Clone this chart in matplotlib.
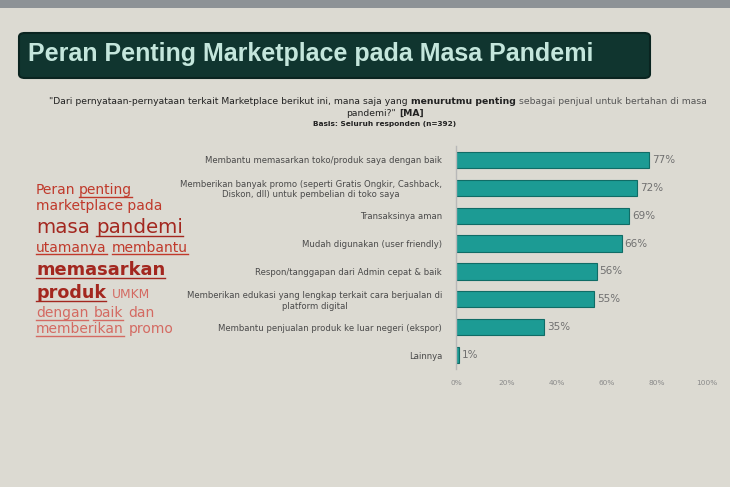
import matplotlib
matplotlib.use("Agg")
import matplotlib.pyplot as plt
from matplotlib.patches import FancyBboxPatch, Rectangle

# data
categories = [
    "Membantu memasarkan toko/produk saya dengan baik",
    "Memberikan banyak promo (seperti Gratis Ongkir, Cashback,\nDiskon, dll) untuk pembelian di toko saya",
    "Transaksinya aman",
    "Mudah digunakan (user friendly)",
    "Respon/tanggapan dari Admin cepat & baik",
    "Memberikan edukasi yang lengkap terkait cara berjualan di\nplatform digital",
    "Membantu penjualan produk ke luar negeri (ekspor)",
    "Lainnya",
]
values = [77, 72, 69, 66, 56, 55, 35, 1]
xticks = [0, 20, 40, 60, 80, 100]

W, H = 730, 487
fig = plt.figure(figsize=(W / 100, H / 100), dpi=100)
fig.patch.set_facecolor("#dcdad2")

def fx(px):
    return px / W

def fy(py):
    return 1 - py / H

# dark band at the very top of the screen
fig.add_artist(Rectangle((0, fy(8)), 1, 8 / H, transform=fig.transFigure,
                         facecolor="#8d9296", edgecolor="none"))

# title box
fig.add_artist(FancyBboxPatch((fx(19), fy(78)), fx(631), 45 / H,
                              boxstyle="round,pad=0,rounding_size=0.008",
                              transform=fig.transFigure,
                              facecolor="#10352f", edgecolor="#0a2420", lw=1.5))
fig.text(fx(28), fy(54), "Peran Penting Marketplace pada Masa Pandemi",
         fontsize=18, fontweight="bold", color="#c4e6dc",
         family="Liberation Sans", va="center")

renderer = fig.canvas.get_renderer()

def draw_line(pieces, x, y, ha="left", gap=3):
    # pieces: (text, size, color, weight, underline)
    objs = []
    for txt, size, color, weight, ul in pieces:
        t = fig.text(0, fy(y), txt, fontsize=size, color=color,
                     fontweight=weight, family="DejaVu Sans", va="baseline")
        objs.append(t)
    widths = [t.get_window_extent(renderer).width for t in objs]
    total = sum(widths) + gap * (len(objs) - 1)
    start = x - total / 2 if ha == "center" else x
    cur = start
    for t, w, p in zip(objs, widths, pieces):
        t.set_x(fx(cur))
        if p[4]:
            fig.add_artist(plt.Line2D([fx(cur), fx(cur + w)],
                                      [fy(y + 2.5), fy(y + 2.5)],
                                      transform=fig.transFigure,
                                      color=p[2], lw=1.0))
        cur += w + gap

# question text
qc = "#222222"
draw_line([("\"Dari pernyataan-pernyataan terkait Marketplace berikut ini, mana saja yang", 6.7, qc, "normal", False),
           ("menurutmu penting", 6.7, qc, "bold", False),
           ("sebagai penjual untuk bertahan di masa", 6.7, "#555555", "normal", False)],
          378, 104, ha="center", gap=3)
draw_line([("pandemi?\"", 6.7, qc, "normal", False),
           ("[MA]", 6.7, qc, "bold", False)],
          385, 116, ha="center", gap=3)
draw_line([("Basis: Seluruh responden (n=392)", 5.3, qc, "bold", False)],
          385, 126, ha="center")

# left red commentary
red = "#c0392b"
dark = "#a3271f"
pink = "#d46a62"
x0 = 36
draw_line([("Peran", 10, red, "normal", False), ("penting", 10, red, "normal", True)], x0, 194)
draw_line([("marketplace pada", 10, red, "normal", False)], x0, 210)
draw_line([("masa", 14.3, dark, "normal", False), ("pandemi", 14.3, dark, "normal", True)], x0, 233, gap=6)
draw_line([("utamanya", 10, red, "normal", True), ("membantu", 10, red, "normal", True)], x0, 252, gap=5)
draw_line([("memasarkan", 12.9, dark, "bold", True)], x0, 275)
draw_line([("produk", 12.6, dark, "bold", True), ("UMKM", 8.8, pink, "normal", False)], x0, 298, gap=6)
draw_line([("dengan", 10, pink, "normal", True), ("baik", 10, pink, "normal", True),
           ("dan", 10, pink, "normal", False)], x0, 317, gap=5)
draw_line([("memberikan", 10, pink, "normal", True), ("promo", 10, pink, "normal", False)], x0, 333, gap=5)

# bar chart
ax = fig.add_axes([fx(456), fy(369), fx(707 - 456), 223 / H])
ax.set_facecolor("none")
ypos = list(range(len(values)))
ax.barh(ypos, values, height=0.58, color="#1c9b94", edgecolor="#106c66", lw=0.8)
for yy, v in zip(ypos, values):
    ax.text(v + 1.2, yy, f"{v}%", va="center", ha="left", fontsize=7.5, color="#707070")
ax.set_ylim(len(values) - 0.5, -0.5)
ax.set_xlim(0, 100)
ax.set_yticks(ypos)
ax.set_yticklabels(categories, fontsize=6.1, color="#4a4a4a", linespacing=1.2,
                   multialignment="center")
ax.tick_params(axis="y", length=0, pad=10)
ax.set_xticks(xticks)
ax.set_xticklabels([f"{t}%" for t in xticks], fontsize=5.3, color="#8a8a8a")
ax.tick_params(axis="x", length=0, pad=8)
for s in ["top", "right", "bottom"]:
    ax.spines[s].set_visible(False)
ax.spines["left"].set_color("#b8b8b8")
ax.spines["left"].set_linewidth(1)

fig.savefig("out.png", dpi=100, facecolor=fig.get_facecolor())
